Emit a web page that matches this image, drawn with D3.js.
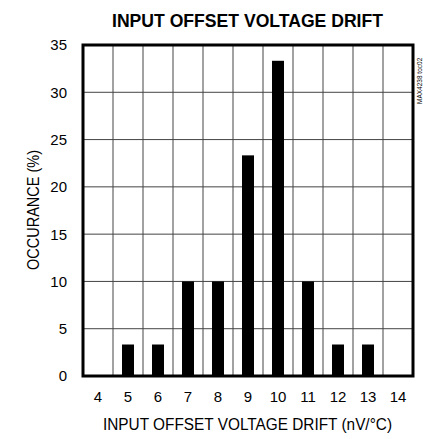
<!DOCTYPE html>
<html><head><meta charset="utf-8">
<script src="https://cdn.jsdelivr.net/npm/d3@7"></script>
<style>
body{margin:0;background:#fff;}
text{font-family:"Liberation Sans Narrow","Liberation Sans",Arial,sans-serif;}
</style></head>
<body><svg id="c" width="423" height="439"></svg>
<script>
const categories = [4,5,6,7,8,9,10,11,12,13,14];
const values = [0,3.33,3.33,10,10,23.33,33.33,10,3.33,3.33,0];
const yTicks = [0,5,10,15,20,25,30,35];
const title = "INPUT OFFSET VOLTAGE DRIFT";
const xTitle = "INPUT OFFSET VOLTAGE DRIFT (nV/°C)";
const yTitle = "OCCURANCE (%)";
const tocLabel = "MAX4238 toc02";

const svg = d3.select("#c");
const L=83, R=413, T=45, B=376;
const x = d3.scaleBand().domain(categories).range([L,R]);
const y = d3.scaleLinear().domain([0,35]).range([B,T]);

// grid
svg.append("g").selectAll("line.v").data(categories.slice(1)).join("line")
  .attr("x1",d=>x(d)).attr("x2",d=>x(d)).attr("y1",T).attr("y2",B)
  .attr("stroke","#444").attr("stroke-width",1);
svg.append("g").selectAll("line.h").data(yTicks.slice(1,-1)).join("line")
  .attr("x1",L).attr("x2",R).attr("y1",d=>y(d)).attr("y2",d=>y(d))
  .attr("stroke","#444").attr("stroke-width",1);

// bars
const bw = 12;
svg.append("g").selectAll("rect").data(categories.map((c,i)=>({c,v:values[i]})).filter(d=>d.v>0)).join("rect")
  .attr("x",d=>x(d.c)+x.bandwidth()/2-bw/2).attr("width",bw)
  .attr("y",d=>y(d.v)).attr("height",d=>B-y(d.v)).attr("fill","#000");

// frame
svg.append("rect").attr("x",L).attr("y",T).attr("width",R-L).attr("height",B-T)
  .attr("fill","none").attr("stroke","#000").attr("stroke-width",3);

// y tick labels
svg.append("g").selectAll("text").data(yTicks).join("text")
  .attr("x",67).attr("y",d=>y(d)).attr("dy","0.36em").attr("text-anchor","end")
  .attr("font-size",15).text(d=>d);
// x tick labels
svg.append("g").selectAll("text").data(categories).join("text")
  .attr("x",d=>x(d)+x.bandwidth()/2).attr("y",397).attr("dy","0.36em").attr("text-anchor","middle")
  .attr("font-size",15).text(d=>d);

svg.append("text").attr("x",112).attr("y",26.5)
  .attr("font-size",19).attr("font-weight","bold")
  .attr("textLength",271).attr("lengthAdjust","spacingAndGlyphs").text(title);
svg.append("text").attr("x",103).attr("y",424).attr("dy","0.36em")
  .attr("font-size",16).attr("textLength",289).attr("lengthAdjust","spacingAndGlyphs").text(xTitle);
svg.append("text").attr("transform","translate(33,270) rotate(-90)").attr("dy","0.36em")
  .attr("font-size",16).attr("textLength",120).attr("lengthAdjust","spacingAndGlyphs").text(yTitle);
svg.append("text").attr("transform","translate(420,104) rotate(-90)").attr("dy","0.36em")
  .attr("text-anchor","start").attr("font-size",6.5).text(tocLabel);
</script></body></html>
